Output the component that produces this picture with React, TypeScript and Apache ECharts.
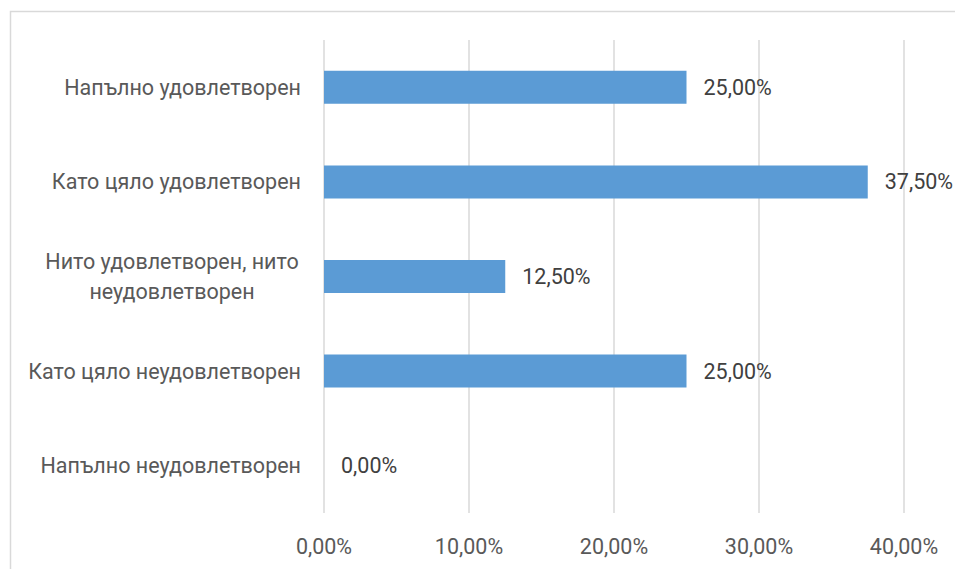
import React, { useEffect, useRef } from "react";
import * as echarts from "echarts";

const categories = [
  "Напълно удовлетворен",
  "Като цяло удовлетворен",
  "Нито удовлетворен, нито неудовлетворен",
  "Като цяло неудовлетворен",
  "Напълно неудовлетворен",
];
const values = [0.25, 0.375, 0.125, 0.25, 0.0];
const tickValues = [0, 0.1, 0.2, 0.3, 0.4];

const FONT = "Roboto";
const FS = 21.5;
const pct = (v: number) => (v * 100).toFixed(2).replace(".", ",") + "%";

export default function App() {
  const ref = useRef<HTMLDivElement>(null);
  useEffect(() => {
    if (!ref.current) return;
    const chart = echarts.init(ref.current, null, { renderer: "svg" });
    chart.setOption({
      animation: false,
      backgroundColor: "#ffffff",
      textStyle: { fontFamily: FONT },
      graphic: [
        {
          type: "rect",
          shape: { x: 10.5, y: 11.5, width: 1000, height: 1000 },
          style: { fill: "none", stroke: "#d9d9d9", lineWidth: 1.5 },
          silent: true,
        },
      ],
      grid: { left: 324, right: 51, top: 40, bottom: 56, containLabel: false },
      xAxis: {
        type: "value",
        min: tickValues[0],
        max: tickValues[tickValues.length - 1],
        interval: 0.1,
        axisLine: { show: false },
        axisTick: { show: false },
        splitLine: { show: true, lineStyle: { color: "#d9d9d9", width: 1.5 } },
        axisLabel: {
          formatter: (v: number) => pct(v),
          color: "#595959",
          fontSize: FS,
          fontFamily: FONT,
          margin: 22,
        },
      },
      yAxis: {
        type: "category",
        data: categories,
        inverse: true,
        axisLine: { show: false },
        axisTick: { show: false },
        axisLabel: {
          color: "#595959",
          fontSize: FS,
          fontFamily: FONT,
          margin: 23,
          formatter: (v: string) => {
            if (v === categories[2]) {
              return "{c|Нито удовлетворен, нито}\n{c|неудовлетворен}";
            }
            return v;
          },
          rich: {
            c: {
              width: 258,
              align: "center",
              fontSize: FS,
              lineHeight: 30,
              color: "#595959",
              fontFamily: FONT,
            },
          },
        },
      },
      series: [
        {
          type: "bar",
          data: values,
          barWidth: 33,
          itemStyle: { color: "#5b9bd5" },
          label: {
            show: true,
            position: "right",
            distance: 17,
            color: "#404040",
            fontSize: FS,
            fontFamily: FONT,
            formatter: (p: any) => pct(p.value),
          },
        },
      ],
    });
    return () => chart.dispose();
  }, []);
  return (
    <div
      ref={ref}
      style={{ position: "fixed", left: 0, top: 0, width: 955, height: 569 }}
    />
  );
}
